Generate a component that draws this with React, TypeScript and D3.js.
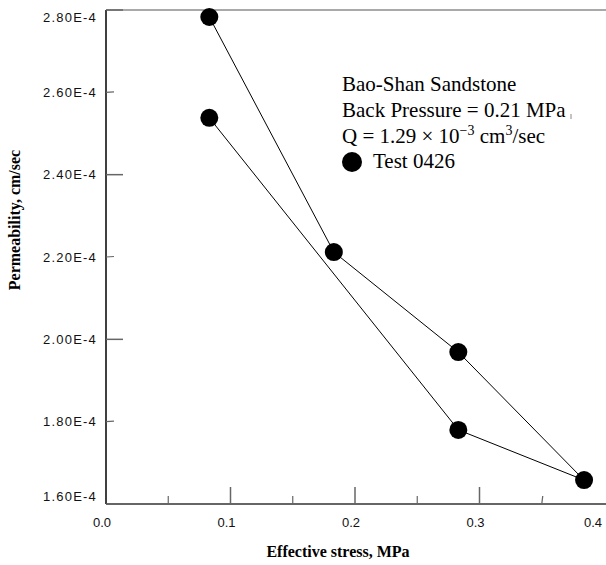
import React from "react";
import * as d3 from "d3";

const stress = [0.083, 0.183, 0.283, 0.384, 0.283, 0.083];
const permeability = [2.783, 2.212, 1.969, 1.658, 1.78, 2.538]; // x 1e-4 cm/sec
const yMajorTicks = [1.6, 2.0, 2.4, 2.8];
const yMinorTicks = [1.8, 2.2, 2.6];
const yTickLabels = [1.6, 1.8, 2.0, 2.2, 2.4, 2.6, 2.8];
const xMajorTicks = [0.1, 0.2, 0.3];
const xMinorTicks = [0.05, 0.15, 0.25, 0.35];
const xTickLabels = [0.0, 0.1, 0.2, 0.3, 0.4];

const W = 606;
const H = 565;
const L = 106, R = 604, T = 10, B = 504;

export default function App() {
  const x = d3.scaleLinear().domain([0, 0.4]).range([L, R]);
  const y = d3.scaleLinear().domain([1.6, 2.8]).range([B, T]);
  const pts = stress.map((s, i) => [x(s), y(permeability[i])] as [number, number]);
  const line = d3.line()(pts) as string;
  const serif = "'Liberation Serif', 'Times New Roman', serif";
  const sans = "'Liberation Sans', Arial, sans-serif";

  const yLabelDy = (v: number) => (v === 2.8 ? 7 : v === 1.6 ? -8 : 0);
  const xLabelDx = (v: number) => (v === 0.4 ? -11 : -4);

  return (
    <svg width={W} height={H} style={{ position: "absolute", left: 0, top: 0, background: "#fff" }}>
      {/* frame */}
      <line x1={L} x2={W} y1={T} y2={T} stroke="#555" strokeWidth={1.2} />
      <line x1={L} x2={W} y1={B} y2={B} stroke="#333" strokeWidth={1.5} />
      <line x1={L} x2={L} y1={T} y2={B} stroke="#000" strokeWidth={1.5} />

      {/* y ticks */}
      {yMajorTicks.map((v) => (
        <line key={"ym" + v} x1={L} x2={L + 17} y1={y(v)} y2={y(v)} stroke="#666" strokeWidth={1.5} />
      ))}
      {yMinorTicks.map((v) => (
        <line key={"yn" + v} x1={L} x2={L + 8} y1={y(v)} y2={y(v) - 0.5} stroke="#666" strokeWidth={1.2} />
      ))}
      {yTickLabels.map((v) => (
        <text
          key={"yl" + v}
          x={97}
          y={y(v) + yLabelDy(v)}
          dy="0.35em"
          textAnchor="end"
          fontFamily={sans}
          fontSize={13}
          letterSpacing={1.2}
          fill="#111"
        >
          {v.toFixed(2) + "E-4"}
        </text>
      ))}

      {/* x ticks */}
      {xMajorTicks.map((v) => (
        <line key={"xm" + v} x1={x(v)} x2={x(v)} y1={B} y2={B - 17} stroke="#666" strokeWidth={1.5} />
      ))}
      {xMinorTicks.map((v) => (
        <line
          key={"xn" + v}
          x1={x(v)}
          x2={x(v) + (v === 0.35 ? 1 : 0)}
          y1={B}
          y2={B - 8}
          stroke="#666"
          strokeWidth={1.2}
        />
      ))}
      {xTickLabels.map((v) => (
        <text
          key={"xl" + v}
          x={x(v) + xLabelDx(v)}
          y={527}
          textAnchor="middle"
          fontFamily={sans}
          fontSize={13}
          fill="#111"
        >
          {v.toFixed(1)}
        </text>
      ))}

      {/* axis titles */}
      <text x={338} y={557} textAnchor="middle" fontFamily={serif} fontWeight="bold" fontSize={16}>
        Effective stress, MPa
      </text>
      <text
        transform={`translate(20,220) rotate(-90)`}
        textAnchor="middle"
        fontFamily={serif}
        fontWeight="bold"
        fontSize={16}
      >
        Permeability, cm/sec
      </text>

      {/* data */}
      <path d={line} fill="none" stroke="#000" strokeWidth={1} />
      {pts.map((p, i) => (
        <circle key={"p" + i} cx={p[0]} cy={p[1]} r={9} fill="#000" />
      ))}

      {/* legend */}
      <g fontFamily={serif} fontSize={21} fill="#000">
        <text x={342} y={91}>Bao-Shan Sandstone</text>
        <text x={342} y={117}>Back Pressure = 0.21 MPa</text>
        <text x={342} y={143}>
          Q = 1.29 × 10
          <tspan dy={-8} fontSize={14}>−3</tspan>
          <tspan dy={8}> cm</tspan>
          <tspan dy={-8} fontSize={14}>3</tspan>
          <tspan dy={8}>/sec</tspan>
        </text>
        <circle cx={352} cy={162} r={10} fill="#000" />
        <text x={373} y={168}>Test 0426</text>
      </g>
      <line x1={571} x2={571} y1={114} y2={119} stroke="#888" strokeWidth={1} />
    </svg>
  );
}
